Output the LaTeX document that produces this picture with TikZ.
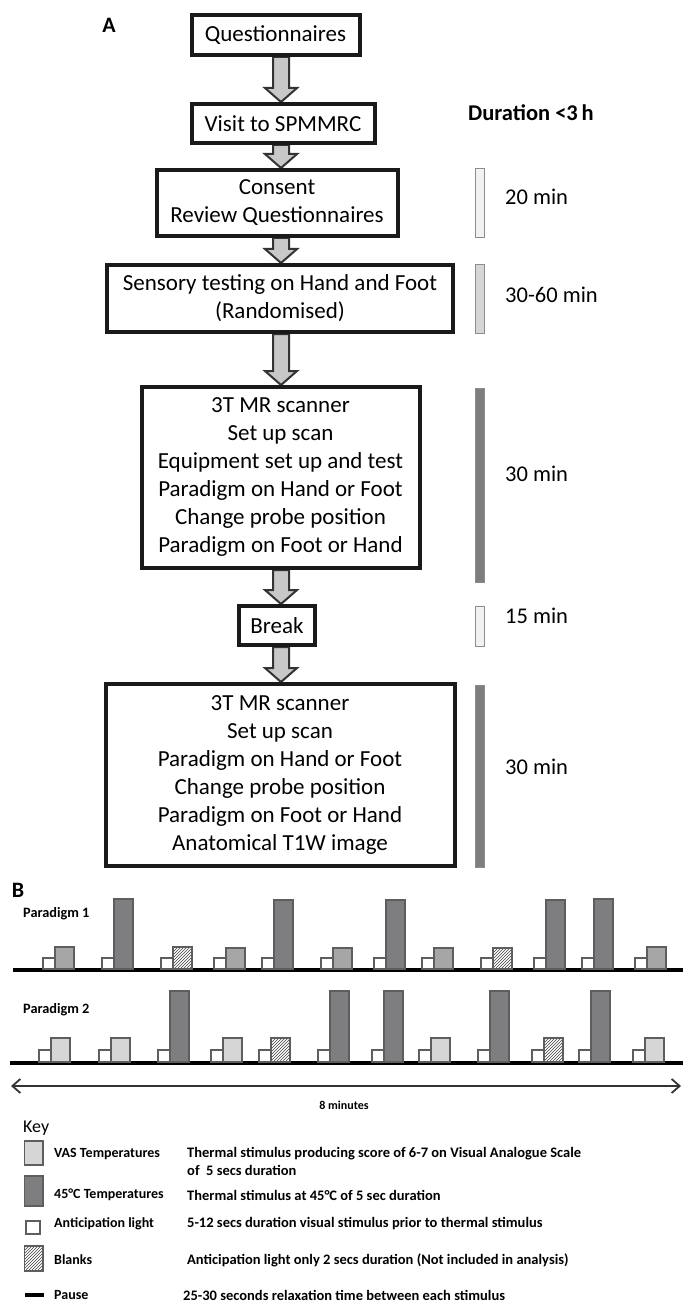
\documentclass[tikz,border=0pt]{standalone}
\usepackage{fontspec}
\setmainfont{Carlito}
\usetikzlibrary{arrows.meta,patterns,backgrounds,calc}
\definecolor{arrfill}{HTML}{C8C8C8}
\definecolor{arredge}{HTML}{333333}
\definecolor{boxedge}{HTML}{1A1A1A}
\definecolor{vlight}{HTML}{F2F2F2}
\definecolor{lgray}{HTML}{D6D6D6}
\definecolor{dgray}{HTML}{7E7E80}
\definecolor{mgray}{HTML}{A6A6A6}
\definecolor{edgegray}{HTML}{5E5E5E}
\newcommand\bxfont{\fontsize{23}{28}\selectfont}
\newcommand\durfont{\fontsize{22.5}{27}\selectfont}
\newcommand\keyfont{\fontsize{14.5}{18}\selectfont\bfseries}
\newcommand\labfont{\fontsize{14}{16}\selectfont\bfseries}
\begin{document}
\begin{tikzpicture}[x=1pt,y=-1pt,
  flow/.style={draw=boxedge, line width=4pt, fill=white, align=center, font=\bxfont, inner sep=0pt},
  barrow/.style={draw=arredge, fill=arrfill, line width=2pt, line join=miter},
  dbar/.style={draw=gray!90, line width=1pt},
  dur/.style={anchor=west, font=\durfont, inner sep=0pt},
  wsq/.style={draw=edgegray, fill=white, line width=1.4pt},
  darkbar/.style={draw=edgegray, fill=dgray, line width=1.4pt},
  vasA/.style={draw=edgegray, fill=mgray, line width=1.4pt},
  vasB/.style={draw=edgegray, fill=lgray, line width=1.4pt},
  hatch/.style={draw=edgegray, preaction={fill=white}, pattern=north east lines, pattern color=black!75, line width=1.4pt},
  pause/.style={draw=black, line width=4pt},
  keylab/.style={anchor=west, font=\labfont, inner sep=0pt},
  keydesc/.style={anchor=west, font=\keyfont, inner sep=0pt, align=left},
  dbl/.style={{Straight Barb[length=8pt,width=14pt]}-{Straight Barb[length=8pt,width=14pt]}, line width=1.8pt, draw=black!80}
]
\useasboundingbox (0,0) rectangle (683,1305);

% ---------- Part A ----------
\node[font=\fontsize{22}{26}\selectfont\bfseries, inner sep=0pt] (lA) at (109,25) {A};

\node[flow, minimum width=168pt, minimum height=40pt] (q) at (275.5,35) {Questionnaires};
\node[flow, minimum width=183pt, minimum height=39pt] (v) at (283,123.5) {Visit to SPMMRC};
\node[flow, minimum width=241pt, minimum height=66pt] (c) at (277,203) {Consent\\Review Questionnaires};
\node[flow, minimum width=346pt, minimum height=67pt] (s) at (280,298.5) {Sensory testing on Hand and Foot\\(Randomised)};
\node[flow, minimum width=278pt, minimum height=181pt] (m1) at (280.5,477.5) {3T MR scanner\\Set up scan\\Equipment set up and test\\Paradigm on Hand or Foot\\Change probe position\\Paradigm on Foot or Hand};
\node[flow, minimum width=76pt, minimum height=39pt] (br) at (277,625.5) {Break};
\node[flow, minimum width=349pt, minimum height=182pt] (m2) at (280,775) {3T MR scanner\\Set up scan\\Paradigm on Hand or Foot\\Change probe position\\Paradigm on Foot or Hand\\Anatomical T1W image};

\coordinate (ax) at (281,0);
\newcommand\blockarrow[2]{%
  \draw[barrow] let \p1=(#1.south), \p2=(#2.north), \p3=(ax) in
    (\x3-8pt,\y1) -- (\x3-8pt,\y2+14pt) -- (\x3-16pt,\y2+14pt) -- (\x3,\y2)
    -- (\x3+16pt,\y2+14pt) -- (\x3+8pt,\y2+14pt) -- (\x3+8pt,\y1) -- cycle;}
\begin{scope}[on background layer]
  \blockarrow{q}{v}
  \blockarrow{v}{c}
  \blockarrow{c}{s}
  \blockarrow{s}{m1}
  \blockarrow{m1}{br}
  \blockarrow{br}{m2}
\end{scope}

% duration bars
\draw[dbar, fill=vlight] (475,169) rectangle (484,238);
\draw[dbar, fill=lgray]  (475,265) rectangle (484,333);
\draw[dbar, fill=dgray]  (475,388) rectangle (484,582);
\draw[dbar, fill=vlight] (475,606) rectangle (484,646);
\draw[dbar, fill=dgray]  (475,685) rectangle (484,867);

\node[dur, font=\durfont\bfseries] (dtot) at (468,113) {Duration <3\,h};
\node[dur] (d1) at (505,197) {20 min};
\node[dur] (d2) at (505,295) {30-60 min};
\node[dur] (d3) at (505,474) {30 min};
\node[dur] (d4) at (505,616) {15 min};
\node[dur] (d5) at (505,767) {30 min};

% ---------- Part B ----------
\node[font=\fontsize{22}{26}\selectfont\bfseries, inner sep=0pt] (lB) at (18,890) {B};
\node[anchor=west, font=\fontsize{14.3}{17}\selectfont\bfseries, inner sep=0pt] (p1) at (23,914) {Paradigm 1};
\node[anchor=west, font=\fontsize{14.3}{17}\selectfont\bfseries, inner sep=0pt] (p2) at (23,1010) {Paradigm 2};

% paradigm 1
\draw[pause] (13,970) -- (683,970);
\foreach \x/\s/\h in {43/vasA/22, 102/darkbar/70, 161/hatch/22, 214/vasA/21, 262/darkbar/69, 321/vasA/21,
                      374/darkbar/69, 422/vasA/21, 481/hatch/21, 534/darkbar/69, 582/darkbar/70, 635/vasA/22}{
  \draw[wsq] (\x,969) rectangle ++(12,-11);
  \draw[\s] (\x+12,969) rectangle ++(19,-\h);
}
% paradigm 2
\draw[pause] (10,1063) -- (683,1063);
\foreach \x/\s/\h in {39/vasB/24, 99/vasB/24, 158/darkbar/71, 211/vasB/24, 259/hatch/24, 318/darkbar/71,
                      372/darkbar/71, 419/vasB/24, 478/darkbar/71, 532/hatch/24, 579/darkbar/71, 633/vasB/24}{
  \draw[wsq] (\x,1062) rectangle ++(12,-12);
  \draw[\s] (\x+12,1062) rectangle ++(19,-\h);
}

% 8 minutes
\coordinate (tl) at (11,1086);
\coordinate (tr) at (681,1086);
\draw[dbl] (tl) -- (tr);
\node[font=\fontsize{12}{14}\selectfont\bfseries, inner sep=0pt] (min8) at (344,1105) {8 minutes};

% key
\node[anchor=west, font=\fontsize{18}{20}\selectfont, inner sep=0pt] (key) at (23,1128) {Key};

\draw[vasB] (24.5,1141) rectangle (43,1165);
\node[keylab] (k1) at (54,1154) {VAS Temperatures};
\node[keydesc, anchor=north west] (k1d) at (187,1147) {Thermal stimulus producing score of 6-7 on Visual Analogue Scale\\of\ \ 5 secs duration};

\draw[darkbar] (24.5,1176) rectangle (43,1206);
\node[keylab] (k2) at (54,1195) {45°C Temperatures};
\node[keydesc] (k2d) at (187,1195) {Thermal stimulus at 45°C of 5 sec duration};

\draw[wsq] (26,1221) rectangle (40,1234);
\node[keylab] (k3) at (54,1224) {Anticipation light};
\node[keydesc] (k3d) at (187,1224) {5-12 secs duration visual stimulus prior to thermal stimulus};

\draw[hatch] (24.5,1246) rectangle (43,1271);
\node[keylab] (k4) at (54,1260) {Blanks};
\node[keydesc] (k4d) at (187,1260) {Anticipation light only 2 secs duration (Not included in analysis)};

\draw[pause] (25,1295) -- (43.5,1295);
\node[keylab] (k5) at (54,1295) {Pause};
\node[keydesc] (k5d) at (183,1295) {25-30 seconds relaxation time between each stimulus};
\end{tikzpicture}
\end{document}
